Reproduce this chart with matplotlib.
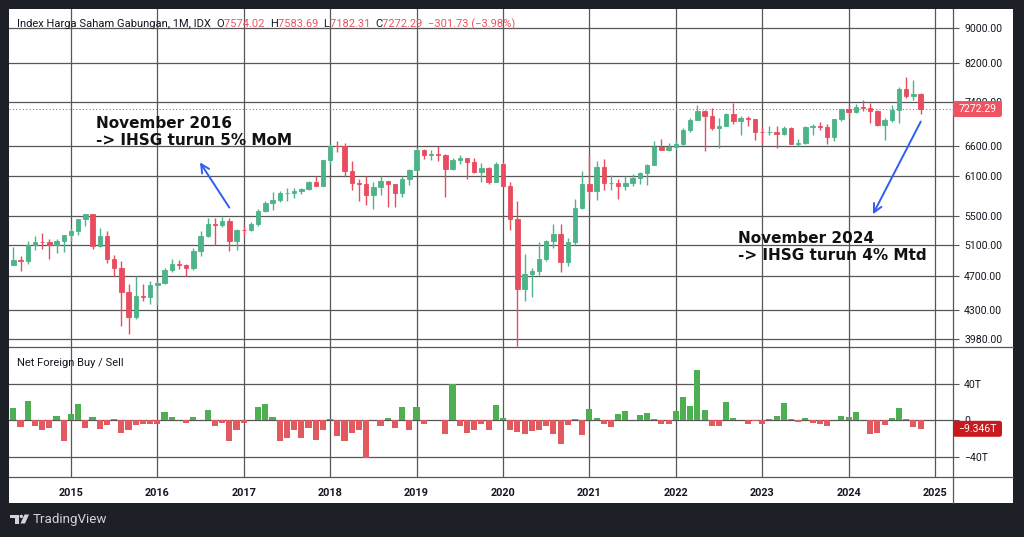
import matplotlib
matplotlib.use('Agg')
import matplotlib.pyplot as plt
from matplotlib.patches import Rectangle, FancyBboxPatch, Polygon, Circle
from matplotlib.lines import Line2D
from matplotlib.ticker import NullLocator, FixedLocator
from matplotlib.transforms import IdentityTransform
import numpy as np

# ---------------- data (monthly, May 2014 .. Nov 2024) ----------------
opens = [
    4840, 4894, 4879, 5089, 5140, 5138, 5089, 5150,
    5227, 5289, 5450, 5519, 5086, 5216, 4911, 4802, 4510, 4224, 4455, 4446,
    4593, 4615, 4771, 4845, 4839, 4797, 5017, 5216, 5386, 5365, 5423, 5149,
    5297, 5294, 5387, 5568, 5685, 5738, 5830, 5841, 5864, 5901, 6006, 5952,
    6356, 6606, 6597, 6189, 5995, 5984, 5799, 5936, 6019, 5977, 5832, 6056,
    6194, 6533, 6443, 6469, 6455, 6209, 6359, 6391, 6329, 6169, 6228, 6012,
    6300, 5940, 5453, 4539, 4716, 4754, 4905, 5150, 5238, 4870, 5128, 5612,
    5979, 5862, 6242, 5986, 5996, 5947, 5986, 6070, 6150, 6287, 6591, 6534,
    6582, 6631, 6888, 7071, 7229, 7149, 6912, 6951, 7179, 7041, 7099, 7081,
    6851, 6839, 6843, 6805, 6916, 6633, 6662, 6931, 6953, 6940, 6752, 7081,
    7273, 7208, 7316, 7289, 7234, 6971, 7064, 7256, 7671, 7528, 7574.02,
]
highs = [
    5070, 4950, 5150, 5220, 5262, 5170, 5175, 5230,
    5323, 5450, 5524, 5525, 5320, 5280, 4960, 4885, 4600, 4700, 4600, 4630,
    4640, 4800, 4905, 4900, 4850, 5050, 5280, 5470, 5460, 5480, 5460, 5315,
    5350, 5410, 5600, 5720, 5850, 5860, 5910, 5920, 5915, 6030, 6110, 6360,
    6630, 6693, 6650, 6350, 6050, 6100, 6010, 6100, 6020, 5980, 6100, 6220,
    6560, 6547, 6530, 6600, 6460, 6400, 6440, 6400, 6400, 6320, 6250, 6330,
    6325, 6000, 5715, 4970, 4800, 5140, 5160, 5386, 5380, 5190, 5750, 6180,
    6450, 6340, 6380, 6120, 6050, 6100, 6133, 6170, 6290, 6690, 6720, 6660,
    6700, 6920, 7100, 7355, 7260, 7290, 7100, 7200, 7380, 7140, 7140, 7090,
    6930, 6950, 6960, 6950, 6930, 6720, 6950, 6990, 7030, 7000, 7090, 7280,
    7340, 7377, 7454, 7380, 7260, 7100, 7350, 7700, 7905, 7840, 7583.69,
]
lows = [
    4830, 4760, 4850, 5030, 5040, 4905, 4985, 5000,
    5150, 5235, 5360, 5040, 5070, 4860, 4700, 4120, 4034, 4200, 4400, 4360,
    4350, 4600, 4750, 4780, 4700, 4770, 4950, 5200, 5100, 5340, 5020, 5030,
    5220, 5280, 5360, 5550, 5580, 5700, 5720, 5760, 5820, 5890, 5950, 5960,
    6300, 6497, 6100, 5890, 5720, 5650, 5600, 5800, 5620, 5620, 5780, 5960,
    6180, 6380, 6370, 6350, 5780, 6200, 6300, 6050, 6150, 6000, 5970, 6000,
    5930, 5300, 3912, 4400, 4450, 4710, 4880, 5060, 4752, 4820, 5100, 5600,
    5750, 5730, 5880, 5883, 5740, 5880, 5950, 5980, 5960, 6280, 6530, 6510,
    6550, 6620, 6850, 7070, 6510, 6880, 6560, 6960, 7000, 6800, 6960, 6700,
    6630, 6800, 6560, 6790, 6630, 6600, 6640, 6800, 6880, 6640, 6690, 7050,
    7100, 7200, 7240, 7020, 6950, 6700, 7030, 7020, 7480, 7450, 7182.31,
]
closes = [
    4894, 4879, 5089, 5137, 5138, 5089, 5150, 5227,
    5289, 5450, 5519, 5086, 5216, 4911, 4802, 4510, 4224, 4455, 4446, 4593,
    4615, 4771, 4845, 4839, 4797, 5017, 5216, 5386, 5365, 5423, 5149, 5297,
    5294, 5387, 5568, 5685, 5738, 5830, 5841, 5864, 5901, 6006, 5952, 6356,
    6606, 6597, 6189, 5995, 5984, 5799, 5936, 6019, 5977, 5832, 6056, 6194,
    6533, 6443, 6469, 6455, 6209, 6359, 6391, 6329, 6169, 6228, 6012, 6300,
    5940, 5453, 4539, 4716, 4754, 4905, 5150, 5238, 4870, 5128, 5612, 5979,
    5862, 6242, 5986, 5996, 5947, 5986, 6070, 6150, 6287, 6591, 6534, 6582,
    6631, 6888, 7071, 7229, 7149, 6912, 6951, 7179, 7041, 7099, 7081, 6851,
    6839, 6843, 6805, 6916, 6633, 6662, 6931, 6953, 6940, 6752, 7081, 7273,
    7208, 7316, 7289, 7234, 6971, 7064, 7256, 7671, 7528, 7574, 7272.29,
]
net_foreign = [
    13.8, -7.6, 21, -6.5, -11, -9, 4.7, -22.5,
    6.5, 17.5, -9, 4, -10, -4.7, 1, -13.8, -10.5, -5.5, -4, -3.6,
    -3.6, 9, 3.3, 0.3, -2.5, 4, 0.3, 11, -6.5, -2.5, -23, -10.5,
    -3.3, 0.2, 15, 17.5, 3.3, -23, -19, -11, -19, -9, -22, -11,
    1, -17, -23, -14, -10.5, -40.7, 0.2, -6, 2.5, -9, 14.5, -10.5,
    15, -3.6, 0.5, 0.2, -14.5, 40, -6, -13.5, -11, -4, -10.5, 16.7,
    2, -10.9, -12.4, -14.5, -11.3, -10.5, -6.2, -15, -26.2, -5.5, 1.1, -15.6,
    12.4, 2.5, -4, -7.6, 6.5, 10.2, 0.3, 5.8, 8.4, 1.5, -3.6, -3.6,
    10.2, 25, 15.3, 54.5, 11.6, -6.5, -6.5, 20, 2.5, 0.3, -3.6, -0.3,
    -3.6, 1.1, 4.7, 18.5, 1.8, -1.8, 2.5, -3.3, -4, -6.5, 0.3, 4.7,
    3.3, 9, 0.3, -14.5, -13.8, -5.5, 2.2, 13, 1.5, -7.6, -9.346,
]
first_year, first_month = 2014, 5
years = [2015, 2016, 2017, 2018, 2019, 2020, 2021, 2022, 2023, 2024, 2025]
price_ticks = [3980, 4300, 4700, 5100, 5500, 6100, 6600, 7400, 8200, 9000]
flow_ticks = [-40, 0, 40]
flow_tick_labels = ["\u221240T", "0", "40T"]
title = "Index Harga Saham Gabungan, 1M, IDX"
note1 = "November 2016\n-> IHSG turun 5% MoM"
note2 = "November 2024\n-> IHSG turun 4% Mtd"

# ---------------- style ----------------
plt.rcParams['font.family'] = ['Roboto', 'DejaVu Sans']
BG = '#1e2028'
GRID = '#575757'
UP = '#4db389'
DOWN = '#e84c5e'
F_UP = '#4caf50'
F_DOWN = '#e05a5f'
TXT = '#131722'
LBL_RED = '#ef5361'
BLUE = '#2f5ef0'

W, H = 1024, 537
fig = plt.figure(figsize=(W / 100, H / 100), dpi=100)
fig.patch.set_facecolor(BG)


def fx(px):
    return px / W


def fy(py):
    return 1 - py / H


fig.patches.append(Rectangle((fx(9), fy(503)), fx(1013) - fx(9), fy(9) - fy(503),
                             transform=fig.transFigure, facecolor='white',
                             edgecolor='none', zorder=-5))

L, R, T, M, B = 9, 953, 9, 347, 477
ax = fig.add_axes([fx(L), fy(M), fx(R) - fx(L), fy(T) - fy(M)])
ax2 = fig.add_axes([fx(L), fy(B), fx(R) - fx(L), fy(M) - fy(B)])
for a in (ax, ax2):
    a.set_facecolor('none')
    for s in a.spines.values():
        s.set_visible(False)

n = len(closes)
x = np.arange(n)
o = np.array(opens, float)
h = np.array(highs, float)
l = np.array(lows, float)
c = np.array(closes, float)
up = c >= o
cols = np.where(up, UP, DOWN)

xlim = (-0.61, 130.5)

# ---------------- price pane ----------------
ax.set_yscale('log')
ax.set_xlim(*xlim)
ax.set_ylim(3900, 9450)
ax.vlines(x, l, h, colors=cols, lw=1.0, zorder=3)
ax.bar(x, np.abs(c - o), bottom=np.minimum(o, c), width=0.62, color=cols,
       edgecolor=cols, linewidth=0.6, zorder=4)

year_pos = [(y - first_year) * 12 + (1 - first_month) for y in years]
ax.yaxis.set_major_locator(FixedLocator(price_ticks))
ax.yaxis.set_minor_locator(NullLocator())
ax.set_yticklabels([f"{v:.2f}" for v in price_ticks])
ax.yaxis.tick_right()
ax.set_xticks(year_pos)
ax.set_xticklabels([])
ax.tick_params(axis='x', length=0)
ax.tick_params(axis='y', length=4, width=0.8, color=GRID, pad=4,
               labelsize=7.6, labelcolor=TXT)
ax.grid(True, color=GRID, lw=0.9, zorder=0)
ax.set_axisbelow(True)

last = closes[-1]
ax.axhline(last, color=LBL_RED, ls=(0, (1, 2)), lw=0.8, zorder=2)

# annotations
ax.annotate('', xy=(25.7, 6363), xytext=(30.2, 5584),
            arrowprops=dict(arrowstyle='->', color=BLUE, lw=1.4, mutation_scale=15),
            zorder=6)
ax.annotate('', xy=(119.2, 5485), xytext=(126.2, 7083),
            arrowprops=dict(arrowstyle='->', color=BLUE, lw=1.4, mutation_scale=15),
            zorder=6)
ax.text(11.5, 7150, note1, fontsize=11, fontweight='bold', color='#111111',
        family=['DejaVu Sans'], va='top', ha='left', linespacing=1.2, zorder=7)
ax.text(100.6, 5290, note2, fontsize=11, fontweight='bold', color='#111111',
        family=['DejaVu Sans'], va='top', ha='left', linespacing=1.2, zorder=7)

# ---------------- flow pane ----------------
nf = np.array(net_foreign, float)
ax2.set_xlim(*xlim)
ax2.set_ylim(-62, 80)
ax2.bar(x, nf, width=0.86, color=np.where(nf >= 0, F_UP, F_DOWN), zorder=3)
ax2.yaxis.tick_right()
ax2.set_yticks(flow_ticks)
ax2.set_yticklabels(flow_tick_labels)
ax2.set_xticks(year_pos)
ax2.set_xticklabels([str(y) for y in years], fontweight='bold')
ax2.tick_params(axis='x', length=0, pad=8, labelsize=7.8, labelcolor=TXT)
ax2.tick_params(axis='y', length=4, width=0.8, color=GRID, pad=4,
                labelsize=7.6, labelcolor=TXT)
ax2.grid(True, color=GRID, lw=0.9, zorder=0)
ax2.set_axisbelow(True)

# ---------------- separators ----------------
for yy in (M, B):
    fig.add_artist(Line2D([fx(9), fx(1013)], [fy(yy), fy(yy)], color=GRID, lw=0.9,
                          transform=fig.transFigure))
fig.add_artist(Line2D([fx(R), fx(R)], [fy(9), fy(503)], color=GRID, lw=0.9,
                      transform=fig.transFigure))


# ---------------- value labels on the axis ----------------
def axis_label(a, yval, text, fc):
    ypx = a.transData.transform((0, yval))[1]
    box = FancyBboxPatch((R, ypx - 8), 49, 16, boxstyle='round,pad=0,rounding_size=2.5',
                         transform=IdentityTransform(), facecolor=fc, edgecolor='none',
                         zorder=10)
    fig.patches.append(box)
    fig.text(fx(R + 24.5), ypx / H, text, color='white', fontsize=7.6,
             ha='center', va='center', zorder=11)


axis_label(ax, last, f"{last:.2f}", LBL_RED)
axis_label(ax2, net_foreign[-1], f"\u2212{abs(net_foreign[-1]):.3f}T", '#c8191e')

# ---------------- header legend ----------------
chg = closes[-1] - opens[-1]
pct = chg / opens[-1] * 100
parts = [
    (title + "  ", TXT),
    ("O", TXT), (f"{opens[-1]:.2f}  ", LBL_RED),
    ("H", TXT), (f"{highs[-1]:.2f}  ", LBL_RED),
    ("L", TXT), (f"{lows[-1]:.2f}  ", LBL_RED),
    ("C", TXT), (f"{closes[-1]:.2f}  ", LBL_RED),
    (f"\u2212{abs(chg):.2f} (\u2212{abs(pct):.2f}%)", LBL_RED),
]
prevt = fig.text(fx(17), fy(24), parts[0][0], color=parts[0][1], fontsize=8.0,
                 ha='left', va='center', zorder=12)
for s, col in parts[1:]:
    prevt = ax.annotate(s, xy=(1, 0.5), xycoords=prevt, ha='left', va='center',
                        color=col, fontsize=8.0, annotation_clip=False, zorder=12)

fig.text(fx(17), fy(363), "Net Foreign Buy / Sell", color=TXT, fontsize=8.0,
         ha='left', va='center')

# ---------------- TradingView mark ----------------
logo_col = '#d1d4dc'
idt = IdentityTransform()
fig.patches.append(Polygon([[9.5, 22.5], [18.5, 22.5], [18.5, 13.5], [15.3, 13.5],
                            [15.3, 19.3], [9.5, 19.3]],
                           closed=True, transform=idt, facecolor=logo_col, edgecolor='none'))
fig.patches.append(Circle((21.3, 20.6), 1.7, transform=idt,
                          facecolor=logo_col, edgecolor='none'))
fig.patches.append(Polygon([[24.5, 22.5], [29.0, 22.5], [25.0, 13.5], [20.5, 13.5]],
                           closed=True, transform=idt, facecolor=logo_col, edgecolor='none'))
fig.text(fx(33), 18 / H, "TradingView", color=logo_col, fontsize=9.6,
         ha='left', va='center')

fig.savefig('out.png', dpi=100, facecolor=BG)
